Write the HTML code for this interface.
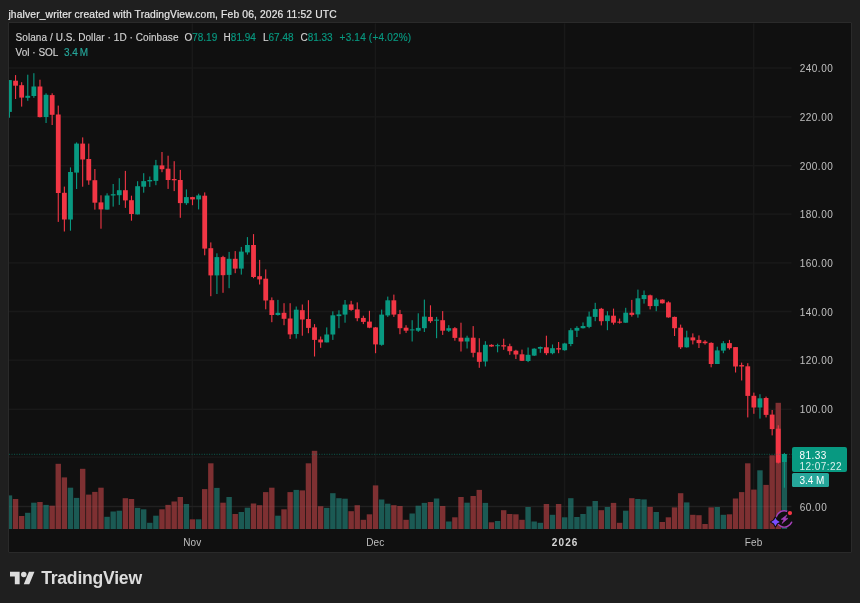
<!DOCTYPE html>
<html><head><meta charset="utf-8"><title>SOLUSD chart</title>
<style>
html,body{margin:0;padding:0}
body{width:860px;height:603px;background:#1f1f1f;overflow:hidden;position:relative;font-family:"Liberation Sans",Arial,sans-serif;color:#d2d2d2}
.abs{position:absolute;white-space:nowrap}
#hdr{left:8.4px;top:8.0px;-webkit-text-stroke:0.2px #e6e6e6;font-size:10.3px;line-height:14px;color:#e6e6e6;letter-spacing:0.14px}
#box{position:absolute;left:7.75px;top:22px;width:842px;height:529px;border:1.25px solid #2a2a2a;background:#101010;border-radius:1px}
svg#c{position:absolute;left:0;top:0}
.lg{position:absolute;white-space:nowrap;font-size:10px;line-height:12px;color:#d2d2d2;-webkit-text-stroke:0.15px}
#l1{letter-spacing:0.065px}
#lD{letter-spacing:0.2px}
#l2v{word-spacing:-1px}
.v{color:#089981}
.pl{position:absolute;left:799.7px;width:40px;font-size:10px;line-height:12px;color:#c0c0c0;white-space:nowrap;letter-spacing:0.5px}
.tl{position:absolute;top:536.9px;letter-spacing:0.2px;width:60px;text-align:center;font-size:10px;line-height:12px;color:#bebebe;white-space:nowrap}
.tl.b{font-weight:bold;color:#d6d6d6;letter-spacing:1.1px;margin-left:0.6px}
#ptag{position:absolute;left:792.2px;top:446.9px;width:55.2px;height:25.6px;background:#089981;border-radius:2px;color:#fff;font-size:10px;line-height:11.4px}
#ptag div{position:absolute;left:7.2px;white-space:nowrap;letter-spacing:0.45px}
#vtag{position:absolute;left:792.2px;top:473.1px;width:36.5px;height:13.8px;background:#26a69a;border-radius:1.5px;color:#fff;font-size:10px;line-height:13.8px}
#vtag div{position:absolute;left:7.2px;white-space:nowrap}
#tvt{position:absolute;left:41.2px;top:567px;font-size:17.6px;line-height:22px;font-weight:bold;color:#dcdcdc;letter-spacing:-0.24px;white-space:nowrap}
</style></head><body>
<div id="hdr" class="abs">jhalver_writer created with TradingView.com, Feb 06, 2026 11:52 UTC</div>
<div id="box"></div>
<svg id="c" width="860" height="603" viewBox="0 0 860 603">
<defs><clipPath id="cp"><rect x="9" y="23.25" width="842" height="529"/></clipPath></defs><g clip-path="url(#cp)"><rect x="9" y="67.25" width="782.50" height="1.5" fill="#191919"/>
<rect x="9" y="116.05" width="782.50" height="1.5" fill="#191919"/>
<rect x="9" y="164.95" width="782.50" height="1.5" fill="#191919"/>
<rect x="9" y="213.35" width="782.50" height="1.5" fill="#191919"/>
<rect x="9" y="262.15" width="782.50" height="1.5" fill="#191919"/>
<rect x="9" y="310.75" width="782.50" height="1.5" fill="#191919"/>
<rect x="9" y="359.45" width="782.50" height="1.5" fill="#191919"/>
<rect x="9" y="408.55" width="782.50" height="1.5" fill="#191919"/>
<rect x="9" y="456.45" width="782.50" height="1.5" fill="#191919"/>
<rect x="9" y="505.75" width="782.50" height="1.5" fill="#191919"/>
<rect x="191.60" y="23.25" width="1.5" height="506.05" fill="#191919"/>
<rect x="374.65" y="23.25" width="1.5" height="506.05" fill="#191919"/>
<rect x="563.80" y="23.25" width="1.5" height="506.05" fill="#191919"/>
<rect x="752.95" y="23.25" width="1.5" height="506.05" fill="#191919"/>
<rect x="6.75" y="495.40" width="5.4" height="33.60" fill="#1b5a54"/>
<rect x="12.85" y="499.00" width="5.4" height="30.00" fill="#7e3032"/>
<rect x="18.95" y="516.00" width="5.4" height="13.00" fill="#7e3032"/>
<rect x="25.06" y="512.80" width="5.4" height="16.20" fill="#1b5a54"/>
<rect x="31.16" y="502.70" width="5.4" height="26.30" fill="#1b5a54"/>
<rect x="37.26" y="502.00" width="5.4" height="27.00" fill="#7e3032"/>
<rect x="43.36" y="504.90" width="5.4" height="24.10" fill="#1b5a54"/>
<rect x="49.46" y="505.70" width="5.4" height="23.30" fill="#7e3032"/>
<rect x="55.56" y="463.80" width="5.4" height="65.20" fill="#7e3032"/>
<rect x="61.67" y="477.40" width="5.4" height="51.60" fill="#7e3032"/>
<rect x="67.77" y="487.70" width="5.4" height="41.30" fill="#1b5a54"/>
<rect x="73.87" y="497.90" width="5.4" height="31.10" fill="#1b5a54"/>
<rect x="79.97" y="468.80" width="5.4" height="60.20" fill="#7e3032"/>
<rect x="86.07" y="494.60" width="5.4" height="34.40" fill="#7e3032"/>
<rect x="92.17" y="491.90" width="5.4" height="37.10" fill="#7e3032"/>
<rect x="98.28" y="487.70" width="5.4" height="41.30" fill="#7e3032"/>
<rect x="104.38" y="516.80" width="5.4" height="12.20" fill="#1b5a54"/>
<rect x="110.48" y="511.50" width="5.4" height="17.50" fill="#1b5a54"/>
<rect x="116.58" y="510.70" width="5.4" height="18.30" fill="#1b5a54"/>
<rect x="122.68" y="498.20" width="5.4" height="30.80" fill="#7e3032"/>
<rect x="128.78" y="499.00" width="5.4" height="30.00" fill="#7e3032"/>
<rect x="134.89" y="507.90" width="5.4" height="21.10" fill="#1b5a54"/>
<rect x="140.99" y="509.30" width="5.4" height="19.70" fill="#1b5a54"/>
<rect x="147.09" y="522.80" width="5.4" height="6.20" fill="#1b5a54"/>
<rect x="153.19" y="515.70" width="5.4" height="13.30" fill="#1b5a54"/>
<rect x="159.29" y="509.30" width="5.4" height="19.70" fill="#7e3032"/>
<rect x="165.39" y="504.90" width="5.4" height="24.10" fill="#7e3032"/>
<rect x="171.50" y="501.50" width="5.4" height="27.50" fill="#7e3032"/>
<rect x="177.60" y="497.00" width="5.4" height="32.00" fill="#7e3032"/>
<rect x="183.70" y="504.00" width="5.4" height="25.00" fill="#1b5a54"/>
<rect x="189.80" y="519.30" width="5.4" height="9.70" fill="#7e3032"/>
<rect x="195.90" y="519.30" width="5.4" height="9.70" fill="#1b5a54"/>
<rect x="202.00" y="489.10" width="5.4" height="39.90" fill="#7e3032"/>
<rect x="208.11" y="463.30" width="5.4" height="65.70" fill="#7e3032"/>
<rect x="214.21" y="487.90" width="5.4" height="41.10" fill="#1b5a54"/>
<rect x="220.31" y="502.70" width="5.4" height="26.30" fill="#7e3032"/>
<rect x="226.41" y="497.00" width="5.4" height="32.00" fill="#1b5a54"/>
<rect x="232.51" y="514.00" width="5.4" height="15.00" fill="#7e3032"/>
<rect x="238.61" y="512.00" width="5.4" height="17.00" fill="#1b5a54"/>
<rect x="244.72" y="507.70" width="5.4" height="21.30" fill="#1b5a54"/>
<rect x="250.82" y="503.50" width="5.4" height="25.50" fill="#7e3032"/>
<rect x="256.92" y="505.20" width="5.4" height="23.80" fill="#7e3032"/>
<rect x="263.02" y="492.10" width="5.4" height="36.90" fill="#7e3032"/>
<rect x="269.12" y="487.70" width="5.4" height="41.30" fill="#7e3032"/>
<rect x="275.22" y="515.70" width="5.4" height="13.30" fill="#1b5a54"/>
<rect x="281.33" y="509.30" width="5.4" height="19.70" fill="#7e3032"/>
<rect x="287.43" y="492.10" width="5.4" height="36.90" fill="#7e3032"/>
<rect x="293.53" y="489.90" width="5.4" height="39.10" fill="#1b5a54"/>
<rect x="299.63" y="490.40" width="5.4" height="38.60" fill="#7e3032"/>
<rect x="305.73" y="463.30" width="5.4" height="65.70" fill="#7e3032"/>
<rect x="311.83" y="450.80" width="5.4" height="78.20" fill="#7e3032"/>
<rect x="317.94" y="506.20" width="5.4" height="22.80" fill="#7e3032"/>
<rect x="324.04" y="507.90" width="5.4" height="21.10" fill="#1b5a54"/>
<rect x="330.14" y="493.20" width="5.4" height="35.80" fill="#1b5a54"/>
<rect x="336.24" y="498.20" width="5.4" height="30.80" fill="#1b5a54"/>
<rect x="342.34" y="498.70" width="5.4" height="30.30" fill="#1b5a54"/>
<rect x="348.45" y="511.20" width="5.4" height="17.80" fill="#7e3032"/>
<rect x="354.55" y="505.20" width="5.4" height="23.80" fill="#7e3032"/>
<rect x="360.65" y="519.80" width="5.4" height="9.20" fill="#7e3032"/>
<rect x="366.75" y="514.30" width="5.4" height="14.70" fill="#7e3032"/>
<rect x="372.85" y="485.40" width="5.4" height="43.60" fill="#7e3032"/>
<rect x="378.95" y="499.50" width="5.4" height="29.50" fill="#1b5a54"/>
<rect x="385.06" y="503.70" width="5.4" height="25.30" fill="#1b5a54"/>
<rect x="391.16" y="505.20" width="5.4" height="23.80" fill="#7e3032"/>
<rect x="397.26" y="506.00" width="5.4" height="23.00" fill="#7e3032"/>
<rect x="403.36" y="519.80" width="5.4" height="9.20" fill="#7e3032"/>
<rect x="409.46" y="513.50" width="5.4" height="15.50" fill="#1b5a54"/>
<rect x="415.56" y="505.70" width="5.4" height="23.30" fill="#1b5a54"/>
<rect x="421.67" y="502.90" width="5.4" height="26.10" fill="#1b5a54"/>
<rect x="427.77" y="502.00" width="5.4" height="27.00" fill="#7e3032"/>
<rect x="433.87" y="498.50" width="5.4" height="30.50" fill="#1b5a54"/>
<rect x="439.97" y="506.00" width="5.4" height="23.00" fill="#7e3032"/>
<rect x="446.07" y="521.50" width="5.4" height="7.50" fill="#1b5a54"/>
<rect x="452.17" y="517.30" width="5.4" height="11.70" fill="#7e3032"/>
<rect x="458.28" y="497.00" width="5.4" height="32.00" fill="#7e3032"/>
<rect x="464.38" y="502.70" width="5.4" height="26.30" fill="#1b5a54"/>
<rect x="470.48" y="496.00" width="5.4" height="33.00" fill="#7e3032"/>
<rect x="476.58" y="489.90" width="5.4" height="39.10" fill="#7e3032"/>
<rect x="482.68" y="502.90" width="5.4" height="26.10" fill="#1b5a54"/>
<rect x="488.78" y="522.30" width="5.4" height="6.70" fill="#7e3032"/>
<rect x="494.89" y="521.00" width="5.4" height="8.00" fill="#1b5a54"/>
<rect x="500.99" y="510.20" width="5.4" height="18.80" fill="#7e3032"/>
<rect x="507.09" y="514.00" width="5.4" height="15.00" fill="#7e3032"/>
<rect x="513.19" y="514.30" width="5.4" height="14.70" fill="#7e3032"/>
<rect x="519.29" y="519.80" width="5.4" height="9.20" fill="#7e3032"/>
<rect x="525.39" y="507.00" width="5.4" height="22.00" fill="#1b5a54"/>
<rect x="531.50" y="521.50" width="5.4" height="7.50" fill="#1b5a54"/>
<rect x="537.60" y="522.80" width="5.4" height="6.20" fill="#1b5a54"/>
<rect x="543.70" y="504.00" width="5.4" height="25.00" fill="#7e3032"/>
<rect x="549.80" y="514.80" width="5.4" height="14.20" fill="#1b5a54"/>
<rect x="555.90" y="504.00" width="5.4" height="25.00" fill="#7e3032"/>
<rect x="562.00" y="517.30" width="5.4" height="11.70" fill="#1b5a54"/>
<rect x="568.11" y="498.20" width="5.4" height="30.80" fill="#1b5a54"/>
<rect x="574.21" y="517.00" width="5.4" height="12.00" fill="#1b5a54"/>
<rect x="580.31" y="514.00" width="5.4" height="15.00" fill="#1b5a54"/>
<rect x="586.41" y="506.50" width="5.4" height="22.50" fill="#1b5a54"/>
<rect x="592.51" y="501.00" width="5.4" height="28.00" fill="#1b5a54"/>
<rect x="598.61" y="510.20" width="5.4" height="18.80" fill="#7e3032"/>
<rect x="604.72" y="507.00" width="5.4" height="22.00" fill="#1b5a54"/>
<rect x="610.82" y="502.90" width="5.4" height="26.10" fill="#7e3032"/>
<rect x="616.92" y="522.80" width="5.4" height="6.20" fill="#7e3032"/>
<rect x="623.02" y="510.70" width="5.4" height="18.30" fill="#1b5a54"/>
<rect x="629.12" y="498.20" width="5.4" height="30.80" fill="#7e3032"/>
<rect x="635.23" y="499.00" width="5.4" height="30.00" fill="#1b5a54"/>
<rect x="641.33" y="499.40" width="5.4" height="29.60" fill="#1b5a54"/>
<rect x="647.43" y="506.90" width="5.4" height="22.10" fill="#7e3032"/>
<rect x="653.53" y="512.00" width="5.4" height="17.00" fill="#1b5a54"/>
<rect x="659.63" y="522.00" width="5.4" height="7.00" fill="#7e3032"/>
<rect x="665.73" y="517.30" width="5.4" height="11.70" fill="#7e3032"/>
<rect x="671.84" y="507.40" width="5.4" height="21.60" fill="#7e3032"/>
<rect x="677.94" y="493.20" width="5.4" height="35.80" fill="#7e3032"/>
<rect x="684.04" y="502.40" width="5.4" height="26.60" fill="#1b5a54"/>
<rect x="690.14" y="514.80" width="5.4" height="14.20" fill="#7e3032"/>
<rect x="696.24" y="515.20" width="5.4" height="13.80" fill="#7e3032"/>
<rect x="702.34" y="524.00" width="5.4" height="5.00" fill="#7e3032"/>
<rect x="708.45" y="507.40" width="5.4" height="21.60" fill="#7e3032"/>
<rect x="714.55" y="507.00" width="5.4" height="22.00" fill="#1b5a54"/>
<rect x="720.65" y="514.80" width="5.4" height="14.20" fill="#1b5a54"/>
<rect x="726.75" y="514.30" width="5.4" height="14.70" fill="#7e3032"/>
<rect x="732.85" y="498.50" width="5.4" height="30.50" fill="#7e3032"/>
<rect x="738.95" y="492.10" width="5.4" height="36.90" fill="#7e3032"/>
<rect x="745.06" y="463.30" width="5.4" height="65.70" fill="#7e3032"/>
<rect x="751.16" y="489.60" width="5.4" height="39.40" fill="#7e3032"/>
<rect x="757.26" y="470.30" width="5.4" height="58.70" fill="#1b5a54"/>
<rect x="763.36" y="484.90" width="5.4" height="44.10" fill="#7e3032"/>
<rect x="769.46" y="455.30" width="5.4" height="73.70" fill="#7e3032"/>
<rect x="775.56" y="402.80" width="5.4" height="126.20" fill="#7e3032"/>
<rect x="781.67" y="454.10" width="5.4" height="74.90" fill="#1b5a54"/>
<rect x="9" y="505.75" width="782.5" height="1.5" fill="#fff" opacity="0.035"/>
<rect x="8.90" y="80.10" width="1.1" height="37.60" fill="#089981"/>
<rect x="7.05" y="80.10" width="4.8" height="31.80" fill="#089981"/>
<rect x="15.00" y="75.10" width="1.1" height="23.90" fill="#f23645"/>
<rect x="13.15" y="80.70" width="4.8" height="5.00" fill="#f23645"/>
<rect x="21.10" y="82.20" width="1.1" height="24.40" fill="#f23645"/>
<rect x="19.25" y="85.20" width="4.8" height="12.40" fill="#f23645"/>
<rect x="27.21" y="74.70" width="1.1" height="26.10" fill="#089981"/>
<rect x="25.36" y="95.80" width="4.8" height="2.00" fill="#089981"/>
<rect x="33.31" y="73.20" width="1.1" height="24.60" fill="#089981"/>
<rect x="31.46" y="86.50" width="4.8" height="9.50" fill="#089981"/>
<rect x="39.41" y="79.70" width="1.1" height="37.70" fill="#f23645"/>
<rect x="37.56" y="86.50" width="4.8" height="30.60" fill="#f23645"/>
<rect x="45.51" y="93.30" width="1.1" height="29.70" fill="#089981"/>
<rect x="43.66" y="94.80" width="4.8" height="22.20" fill="#089981"/>
<rect x="51.61" y="93.30" width="1.1" height="31.70" fill="#f23645"/>
<rect x="49.76" y="95.10" width="4.8" height="19.70" fill="#f23645"/>
<rect x="57.71" y="105.60" width="1.1" height="116.30" fill="#f23645"/>
<rect x="55.86" y="114.50" width="4.8" height="78.50" fill="#f23645"/>
<rect x="63.82" y="186.60" width="1.1" height="44.90" fill="#f23645"/>
<rect x="61.97" y="192.80" width="4.8" height="26.70" fill="#f23645"/>
<rect x="69.92" y="167.40" width="1.1" height="63.30" fill="#089981"/>
<rect x="68.07" y="172.00" width="4.8" height="47.50" fill="#089981"/>
<rect x="76.02" y="142.40" width="1.1" height="46.60" fill="#089981"/>
<rect x="74.17" y="143.60" width="4.8" height="29.00" fill="#089981"/>
<rect x="82.12" y="137.40" width="1.1" height="49.30" fill="#f23645"/>
<rect x="80.27" y="143.60" width="4.8" height="15.90" fill="#f23645"/>
<rect x="88.22" y="143.60" width="1.1" height="41.20" fill="#f23645"/>
<rect x="86.37" y="159.00" width="4.8" height="21.40" fill="#f23645"/>
<rect x="94.32" y="169.00" width="1.1" height="40.60" fill="#f23645"/>
<rect x="92.47" y="180.20" width="4.8" height="22.50" fill="#f23645"/>
<rect x="100.43" y="195.30" width="1.1" height="33.40" fill="#f23645"/>
<rect x="98.58" y="202.40" width="4.8" height="7.00" fill="#f23645"/>
<rect x="106.53" y="193.30" width="1.1" height="16.30" fill="#089981"/>
<rect x="104.68" y="195.50" width="4.8" height="14.10" fill="#089981"/>
<rect x="112.63" y="184.00" width="1.1" height="22.60" fill="#089981"/>
<rect x="110.78" y="194.20" width="4.8" height="1.30" fill="#089981"/>
<rect x="118.73" y="178.20" width="1.1" height="26.70" fill="#089981"/>
<rect x="116.88" y="190.20" width="4.8" height="5.00" fill="#089981"/>
<rect x="124.83" y="170.90" width="1.1" height="37.00" fill="#f23645"/>
<rect x="122.98" y="190.20" width="4.8" height="10.20" fill="#f23645"/>
<rect x="130.93" y="195.70" width="1.1" height="25.00" fill="#f23645"/>
<rect x="129.08" y="200.20" width="4.8" height="13.80" fill="#f23645"/>
<rect x="137.04" y="181.20" width="1.1" height="33.20" fill="#089981"/>
<rect x="135.19" y="186.20" width="4.8" height="28.20" fill="#089981"/>
<rect x="143.14" y="173.20" width="1.1" height="19.50" fill="#089981"/>
<rect x="141.29" y="181.10" width="4.8" height="5.60" fill="#089981"/>
<rect x="149.24" y="176.50" width="1.1" height="10.40" fill="#089981"/>
<rect x="147.39" y="180.00" width="4.8" height="1.40" fill="#089981"/>
<rect x="155.34" y="159.90" width="1.1" height="25.30" fill="#089981"/>
<rect x="153.49" y="165.30" width="4.8" height="15.60" fill="#089981"/>
<rect x="161.44" y="152.00" width="1.1" height="20.20" fill="#f23645"/>
<rect x="159.59" y="165.40" width="4.8" height="3.80" fill="#f23645"/>
<rect x="167.54" y="155.70" width="1.1" height="33.20" fill="#f23645"/>
<rect x="165.69" y="168.70" width="4.8" height="11.30" fill="#f23645"/>
<rect x="173.65" y="161.20" width="1.1" height="29.90" fill="#f23645"/>
<rect x="171.80" y="179.00" width="4.8" height="1.30" fill="#f23645"/>
<rect x="179.75" y="169.90" width="1.1" height="47.90" fill="#f23645"/>
<rect x="177.90" y="180.00" width="4.8" height="23.10" fill="#f23645"/>
<rect x="185.85" y="189.40" width="1.1" height="15.50" fill="#089981"/>
<rect x="184.00" y="197.10" width="4.8" height="6.10" fill="#089981"/>
<rect x="191.95" y="196.80" width="1.1" height="8.40" fill="#f23645"/>
<rect x="190.10" y="197.10" width="4.8" height="2.30" fill="#f23645"/>
<rect x="198.05" y="193.70" width="1.1" height="15.70" fill="#089981"/>
<rect x="196.20" y="195.40" width="4.8" height="4.00" fill="#089981"/>
<rect x="204.15" y="192.40" width="1.1" height="62.90" fill="#f23645"/>
<rect x="202.30" y="195.70" width="4.8" height="52.90" fill="#f23645"/>
<rect x="210.26" y="242.40" width="1.1" height="53.80" fill="#f23645"/>
<rect x="208.41" y="248.20" width="4.8" height="27.20" fill="#f23645"/>
<rect x="216.36" y="253.30" width="1.1" height="40.70" fill="#089981"/>
<rect x="214.51" y="257.10" width="4.8" height="18.30" fill="#089981"/>
<rect x="222.46" y="255.80" width="1.1" height="37.00" fill="#f23645"/>
<rect x="220.61" y="257.10" width="4.8" height="18.10" fill="#f23645"/>
<rect x="228.56" y="251.90" width="1.1" height="36.30" fill="#089981"/>
<rect x="226.71" y="258.80" width="4.8" height="16.10" fill="#089981"/>
<rect x="234.66" y="251.10" width="1.1" height="22.10" fill="#f23645"/>
<rect x="232.81" y="258.80" width="4.8" height="9.80" fill="#f23645"/>
<rect x="240.76" y="246.90" width="1.1" height="27.70" fill="#089981"/>
<rect x="238.91" y="251.60" width="4.8" height="17.00" fill="#089981"/>
<rect x="246.87" y="237.10" width="1.1" height="17.50" fill="#089981"/>
<rect x="245.02" y="245.00" width="4.8" height="7.40" fill="#089981"/>
<rect x="252.97" y="234.10" width="1.1" height="44.10" fill="#f23645"/>
<rect x="251.12" y="245.00" width="4.8" height="32.00" fill="#f23645"/>
<rect x="259.07" y="259.90" width="1.1" height="24.60" fill="#f23645"/>
<rect x="257.22" y="276.20" width="4.8" height="3.20" fill="#f23645"/>
<rect x="265.17" y="269.40" width="1.1" height="39.90" fill="#f23645"/>
<rect x="263.32" y="278.70" width="4.8" height="21.80" fill="#f23645"/>
<rect x="271.27" y="297.40" width="1.1" height="24.80" fill="#f23645"/>
<rect x="269.42" y="300.20" width="4.8" height="14.80" fill="#f23645"/>
<rect x="277.37" y="299.90" width="1.1" height="15.70" fill="#089981"/>
<rect x="275.52" y="312.80" width="4.8" height="2.20" fill="#089981"/>
<rect x="283.48" y="303.20" width="1.1" height="22.00" fill="#f23645"/>
<rect x="281.63" y="312.80" width="4.8" height="6.00" fill="#f23645"/>
<rect x="289.58" y="303.20" width="1.1" height="35.80" fill="#f23645"/>
<rect x="287.73" y="318.50" width="4.8" height="15.90" fill="#f23645"/>
<rect x="295.68" y="306.50" width="1.1" height="32.00" fill="#089981"/>
<rect x="293.83" y="309.70" width="4.8" height="24.30" fill="#089981"/>
<rect x="301.78" y="304.50" width="1.1" height="31.20" fill="#f23645"/>
<rect x="299.93" y="310.20" width="4.8" height="9.30" fill="#f23645"/>
<rect x="307.88" y="300.20" width="1.1" height="33.00" fill="#f23645"/>
<rect x="306.03" y="319.00" width="4.8" height="8.90" fill="#f23645"/>
<rect x="313.98" y="324.10" width="1.1" height="32.40" fill="#f23645"/>
<rect x="312.13" y="327.40" width="4.8" height="12.50" fill="#f23645"/>
<rect x="320.09" y="336.50" width="1.1" height="11.30" fill="#f23645"/>
<rect x="318.24" y="339.50" width="4.8" height="2.90" fill="#f23645"/>
<rect x="326.19" y="327.40" width="1.1" height="15.00" fill="#089981"/>
<rect x="324.34" y="334.50" width="4.8" height="7.90" fill="#089981"/>
<rect x="332.29" y="311.30" width="1.1" height="28.60" fill="#089981"/>
<rect x="330.44" y="315.30" width="4.8" height="19.20" fill="#089981"/>
<rect x="338.39" y="310.30" width="1.1" height="17.90" fill="#089981"/>
<rect x="336.54" y="314.40" width="4.8" height="1.70" fill="#089981"/>
<rect x="344.49" y="300.00" width="1.1" height="22.70" fill="#089981"/>
<rect x="342.64" y="304.60" width="4.8" height="10.00" fill="#089981"/>
<rect x="350.60" y="300.80" width="1.1" height="10.00" fill="#f23645"/>
<rect x="348.75" y="304.40" width="4.8" height="5.50" fill="#f23645"/>
<rect x="356.70" y="302.40" width="1.1" height="18.80" fill="#f23645"/>
<rect x="354.85" y="309.40" width="4.8" height="8.80" fill="#f23645"/>
<rect x="362.80" y="315.70" width="1.1" height="8.40" fill="#f23645"/>
<rect x="360.95" y="317.90" width="4.8" height="4.00" fill="#f23645"/>
<rect x="368.90" y="310.80" width="1.1" height="17.40" fill="#f23645"/>
<rect x="367.05" y="321.60" width="4.8" height="6.10" fill="#f23645"/>
<rect x="375.00" y="327.00" width="1.1" height="26.20" fill="#f23645"/>
<rect x="373.15" y="327.40" width="4.8" height="17.00" fill="#f23645"/>
<rect x="381.10" y="309.60" width="1.1" height="36.10" fill="#089981"/>
<rect x="379.25" y="314.60" width="4.8" height="30.20" fill="#089981"/>
<rect x="387.21" y="296.60" width="1.1" height="20.30" fill="#089981"/>
<rect x="385.36" y="300.30" width="4.8" height="15.10" fill="#089981"/>
<rect x="393.31" y="294.60" width="1.1" height="22.30" fill="#f23645"/>
<rect x="391.46" y="300.30" width="4.8" height="14.30" fill="#f23645"/>
<rect x="399.41" y="309.90" width="1.1" height="24.30" fill="#f23645"/>
<rect x="397.56" y="314.10" width="4.8" height="14.10" fill="#f23645"/>
<rect x="405.51" y="325.20" width="1.1" height="7.70" fill="#f23645"/>
<rect x="403.66" y="327.70" width="4.8" height="3.00" fill="#f23645"/>
<rect x="411.61" y="320.20" width="1.1" height="21.30" fill="#089981"/>
<rect x="409.76" y="329.40" width="4.8" height="1.00" fill="#089981"/>
<rect x="417.71" y="313.30" width="1.1" height="18.60" fill="#089981"/>
<rect x="415.86" y="327.90" width="4.8" height="2.80" fill="#089981"/>
<rect x="423.82" y="299.60" width="1.1" height="32.40" fill="#089981"/>
<rect x="421.97" y="316.60" width="4.8" height="11.60" fill="#089981"/>
<rect x="429.92" y="305.30" width="1.1" height="17.60" fill="#f23645"/>
<rect x="428.07" y="316.90" width="4.8" height="4.30" fill="#f23645"/>
<rect x="436.02" y="316.90" width="1.1" height="21.30" fill="#089981"/>
<rect x="434.17" y="319.60" width="4.8" height="1.10" fill="#089981"/>
<rect x="442.12" y="311.10" width="1.1" height="23.80" fill="#f23645"/>
<rect x="440.27" y="320.20" width="4.8" height="10.50" fill="#f23645"/>
<rect x="448.22" y="325.20" width="1.1" height="6.80" fill="#089981"/>
<rect x="446.37" y="328.20" width="4.8" height="2.50" fill="#089981"/>
<rect x="454.32" y="327.10" width="1.1" height="13.60" fill="#f23645"/>
<rect x="452.47" y="328.20" width="4.8" height="9.70" fill="#f23645"/>
<rect x="460.43" y="322.70" width="1.1" height="28.80" fill="#f23645"/>
<rect x="458.58" y="337.70" width="4.8" height="3.80" fill="#f23645"/>
<rect x="466.53" y="335.70" width="1.1" height="12.80" fill="#089981"/>
<rect x="464.68" y="337.70" width="4.8" height="3.80" fill="#089981"/>
<rect x="472.63" y="326.10" width="1.1" height="31.20" fill="#f23645"/>
<rect x="470.78" y="337.70" width="4.8" height="15.10" fill="#f23645"/>
<rect x="478.73" y="338.20" width="1.1" height="29.60" fill="#f23645"/>
<rect x="476.88" y="352.30" width="4.8" height="9.50" fill="#f23645"/>
<rect x="484.83" y="341.20" width="1.1" height="25.30" fill="#089981"/>
<rect x="482.98" y="344.80" width="4.8" height="16.70" fill="#089981"/>
<rect x="490.93" y="344.30" width="1.1" height="2.50" fill="#f23645"/>
<rect x="489.08" y="344.80" width="4.8" height="1.70" fill="#f23645"/>
<rect x="497.04" y="343.70" width="1.1" height="8.60" fill="#089981"/>
<rect x="495.19" y="345.20" width="4.8" height="1.00" fill="#089981"/>
<rect x="503.14" y="338.70" width="1.1" height="11.10" fill="#f23645"/>
<rect x="501.29" y="345.20" width="4.8" height="1.30" fill="#f23645"/>
<rect x="509.24" y="343.70" width="1.1" height="11.10" fill="#f23645"/>
<rect x="507.39" y="346.20" width="4.8" height="5.00" fill="#f23645"/>
<rect x="515.34" y="349.80" width="1.1" height="9.20" fill="#f23645"/>
<rect x="513.49" y="350.70" width="4.8" height="3.80" fill="#f23645"/>
<rect x="521.44" y="349.60" width="1.1" height="11.40" fill="#f23645"/>
<rect x="519.59" y="354.30" width="4.8" height="6.50" fill="#f23645"/>
<rect x="527.54" y="347.50" width="1.1" height="14.60" fill="#089981"/>
<rect x="525.69" y="354.80" width="4.8" height="6.20" fill="#089981"/>
<rect x="533.65" y="348.20" width="1.1" height="7.80" fill="#089981"/>
<rect x="531.80" y="348.70" width="4.8" height="6.90" fill="#089981"/>
<rect x="539.75" y="346.50" width="1.1" height="6.30" fill="#089981"/>
<rect x="537.90" y="347.00" width="4.8" height="1.70" fill="#089981"/>
<rect x="545.85" y="335.70" width="1.1" height="19.40" fill="#f23645"/>
<rect x="544.00" y="347.30" width="4.8" height="5.90" fill="#f23645"/>
<rect x="551.95" y="344.50" width="1.1" height="9.80" fill="#089981"/>
<rect x="550.10" y="348.20" width="4.8" height="5.00" fill="#089981"/>
<rect x="558.05" y="342.00" width="1.1" height="11.20" fill="#f23645"/>
<rect x="556.20" y="348.20" width="4.8" height="1.30" fill="#f23645"/>
<rect x="564.15" y="342.80" width="1.1" height="7.90" fill="#089981"/>
<rect x="562.30" y="343.50" width="4.8" height="6.70" fill="#089981"/>
<rect x="570.26" y="328.20" width="1.1" height="18.00" fill="#089981"/>
<rect x="568.41" y="330.20" width="4.8" height="13.80" fill="#089981"/>
<rect x="576.36" y="326.20" width="1.1" height="10.80" fill="#089981"/>
<rect x="574.51" y="327.90" width="4.8" height="2.80" fill="#089981"/>
<rect x="582.46" y="322.40" width="1.1" height="6.10" fill="#089981"/>
<rect x="580.61" y="326.00" width="4.8" height="2.20" fill="#089981"/>
<rect x="588.56" y="311.60" width="1.1" height="16.60" fill="#089981"/>
<rect x="586.71" y="316.60" width="4.8" height="10.30" fill="#089981"/>
<rect x="594.66" y="302.80" width="1.1" height="18.40" fill="#089981"/>
<rect x="592.81" y="309.10" width="4.8" height="7.80" fill="#089981"/>
<rect x="600.76" y="307.90" width="1.1" height="17.50" fill="#f23645"/>
<rect x="598.91" y="308.80" width="4.8" height="12.40" fill="#f23645"/>
<rect x="606.87" y="311.20" width="1.1" height="19.00" fill="#089981"/>
<rect x="605.02" y="315.40" width="4.8" height="5.70" fill="#089981"/>
<rect x="612.97" y="308.60" width="1.1" height="16.00" fill="#f23645"/>
<rect x="611.12" y="315.70" width="4.8" height="7.00" fill="#f23645"/>
<rect x="619.07" y="318.60" width="1.1" height="5.00" fill="#f23645"/>
<rect x="617.22" y="321.60" width="4.8" height="1.10" fill="#f23645"/>
<rect x="625.17" y="307.80" width="1.1" height="15.10" fill="#089981"/>
<rect x="623.32" y="312.70" width="4.8" height="10.00" fill="#089981"/>
<rect x="631.27" y="299.90" width="1.1" height="16.70" fill="#f23645"/>
<rect x="629.42" y="312.70" width="4.8" height="2.20" fill="#f23645"/>
<rect x="637.38" y="289.60" width="1.1" height="28.10" fill="#089981"/>
<rect x="635.53" y="298.30" width="4.8" height="16.10" fill="#089981"/>
<rect x="643.48" y="290.50" width="1.1" height="13.10" fill="#089981"/>
<rect x="641.63" y="295.00" width="4.8" height="4.10" fill="#089981"/>
<rect x="649.58" y="294.60" width="1.1" height="14.80" fill="#f23645"/>
<rect x="647.73" y="295.30" width="4.8" height="10.80" fill="#f23645"/>
<rect x="655.68" y="297.90" width="1.1" height="13.30" fill="#089981"/>
<rect x="653.83" y="299.60" width="4.8" height="6.50" fill="#089981"/>
<rect x="661.78" y="299.30" width="1.1" height="4.20" fill="#f23645"/>
<rect x="659.93" y="299.60" width="4.8" height="3.70" fill="#f23645"/>
<rect x="667.88" y="301.30" width="1.1" height="16.40" fill="#f23645"/>
<rect x="666.03" y="302.40" width="4.8" height="15.00" fill="#f23645"/>
<rect x="673.99" y="316.60" width="1.1" height="19.40" fill="#f23645"/>
<rect x="672.14" y="316.90" width="4.8" height="11.30" fill="#f23645"/>
<rect x="680.09" y="324.60" width="1.1" height="24.40" fill="#f23645"/>
<rect x="678.24" y="327.70" width="4.8" height="19.60" fill="#f23645"/>
<rect x="686.19" y="330.70" width="1.1" height="16.90" fill="#089981"/>
<rect x="684.34" y="337.40" width="4.8" height="9.90" fill="#089981"/>
<rect x="692.29" y="333.40" width="1.1" height="11.00" fill="#f23645"/>
<rect x="690.44" y="337.40" width="4.8" height="3.00" fill="#f23645"/>
<rect x="698.39" y="335.40" width="1.1" height="12.60" fill="#f23645"/>
<rect x="696.54" y="339.90" width="4.8" height="3.20" fill="#f23645"/>
<rect x="704.49" y="340.10" width="1.1" height="4.50" fill="#f23645"/>
<rect x="702.64" y="341.60" width="4.8" height="1.60" fill="#f23645"/>
<rect x="710.60" y="342.30" width="1.1" height="25.00" fill="#f23645"/>
<rect x="708.75" y="342.90" width="4.8" height="21.10" fill="#f23645"/>
<rect x="716.70" y="346.70" width="1.1" height="17.30" fill="#089981"/>
<rect x="714.85" y="350.40" width="4.8" height="13.60" fill="#089981"/>
<rect x="722.80" y="341.10" width="1.1" height="12.10" fill="#089981"/>
<rect x="720.95" y="343.20" width="4.8" height="7.40" fill="#089981"/>
<rect x="728.90" y="339.90" width="1.1" height="9.70" fill="#f23645"/>
<rect x="727.05" y="343.10" width="4.8" height="5.10" fill="#f23645"/>
<rect x="735.00" y="347.00" width="1.1" height="25.50" fill="#f23645"/>
<rect x="733.15" y="347.10" width="4.8" height="19.40" fill="#f23645"/>
<rect x="741.10" y="362.60" width="1.1" height="17.90" fill="#f23645"/>
<rect x="739.25" y="365.10" width="4.8" height="1.40" fill="#f23645"/>
<rect x="747.21" y="363.20" width="1.1" height="54.20" fill="#f23645"/>
<rect x="745.36" y="366.30" width="4.8" height="29.60" fill="#f23645"/>
<rect x="753.31" y="392.60" width="1.1" height="21.20" fill="#f23645"/>
<rect x="751.46" y="395.80" width="4.8" height="11.70" fill="#f23645"/>
<rect x="759.41" y="394.20" width="1.1" height="24.40" fill="#089981"/>
<rect x="757.56" y="398.30" width="4.8" height="9.20" fill="#089981"/>
<rect x="765.51" y="396.60" width="1.1" height="20.80" fill="#f23645"/>
<rect x="763.66" y="398.00" width="4.8" height="16.90" fill="#f23645"/>
<rect x="771.61" y="410.00" width="1.1" height="25.40" fill="#f23645"/>
<rect x="769.76" y="414.60" width="4.8" height="14.50" fill="#f23645"/>
<rect x="777.71" y="425.30" width="1.1" height="38.20" fill="#f23645"/>
<rect x="775.86" y="428.70" width="4.8" height="34.00" fill="#f23645"/>
<rect x="783.82" y="452.90" width="1.1" height="34.80" fill="#089981"/>
<rect x="781.97" y="454.00" width="4.8" height="8.00" fill="#089981"/>
<line x1="9" y1="454.3" x2="792" y2="454.3" stroke="#089981" stroke-width="1" stroke-dasharray="1.1 1.4" opacity="0.5"/>
<g>
<circle cx="784.2" cy="518.95" r="8.6" fill="#101010"/>
<path d="M791.70 522.13 A8.15 8.15 0 1 1 786.99 511.29" fill="none" stroke="#a340b8" stroke-width="1.45" stroke-linecap="round"/>
<circle cx="789.95" cy="513.05" r="3.1" fill="#101010"/>
<circle cx="789.95" cy="513.05" r="2.15" fill="#f23645"/>
<path d="M786.86 514.91 L781.18 519.34 L783.96 519.68 L782.0 523.49 L787.98 518.43 L785.2 518.23 Z" fill="#a340b8" stroke="#a340b8" stroke-width="0.6" stroke-linejoin="round"/>
<path d="M775.46 517.65 Q776.45 520.95 779.7 521.95 Q776.45 522.95 775.46 526.25 Q774.47 522.95 771.22 521.95 Q774.47 520.95 775.46 517.65 Z" fill="#101010" stroke="#101010" stroke-width="2.2" stroke-linejoin="round"/>
<path d="M775.46 517.65 Q776.45 520.95 779.7 521.95 Q776.45 522.95 775.46 526.25 Q774.47 522.95 771.22 521.95 Q774.47 520.95 775.46 517.65 Z" fill="#7a4dff"/>
</g></g>
</svg>
<div class="lg" id="l1" style="left:15.6px;top:32.1px"><span id="l1a">Solana / U.S. Dollar · 1D · Coinbase</span></div>
<div class="lg" id="lO" style="left:184.4px;top:32.1px">O<span class="v">78.19</span></div>
<div class="lg" id="lH" style="left:223.6px;top:32.1px">H<span class="v">81.94</span></div>
<div class="lg" id="lL" style="left:263px;top:32.1px">L<span class="v">67.48</span></div>
<div class="lg" id="lC" style="left:300.4px;top:32.1px">C<span class="v">81.33</span></div>
<div class="lg v" id="lD" style="left:339.6px;top:32.1px">+3.14 (+4.02%)</div>
<div class="lg" id="l2" style="left:15.6px;top:46.9px">Vol · SOL</div>
<div class="lg" id="l2v" style="left:64px;top:46.9px;color:#26a69a">3.4 M</div>
<div class="pl" style="top:63.0px">240.00</div>
<div class="pl" style="top:111.8px">220.00</div>
<div class="pl" style="top:160.5px">200.00</div>
<div class="pl" style="top:209.0px">180.00</div>
<div class="pl" style="top:257.9px">160.00</div>
<div class="pl" style="top:306.5px">140.00</div>
<div class="pl" style="top:355.1px">120.00</div>
<div class="pl" style="top:404.3px">100.00</div>
<div class="pl" style="top:501.5px">60.00</div>

<div class="tl" style="left:162.35px">Nov</div>
<div class="tl" style="left:345.40px">Dec</div>
<div class="tl b" style="left:534.55px">2026</div>
<div class="tl" style="left:723.70px">Feb</div>

<div id="ptag"><div style="top:3.0px">81.33</div><div style="top:14.0px;color:#d9f0ec">12:07:22</div></div>
<div id="vtag"><div style="top:1.3px">3.4 M</div></div>
<svg class="abs" style="left:10px;top:568.9px" width="24.8" height="19.3" viewBox="0 0 36 28"><path d="M14 22H7V11H0V4h14v18zM28 22h-8l7.5-18h8L28 22z" fill="#dcdcdc"/><circle cx="20" cy="8" r="4" fill="#dcdcdc"/></svg>
<div id="tvt">TradingView</div>
</body></html>
